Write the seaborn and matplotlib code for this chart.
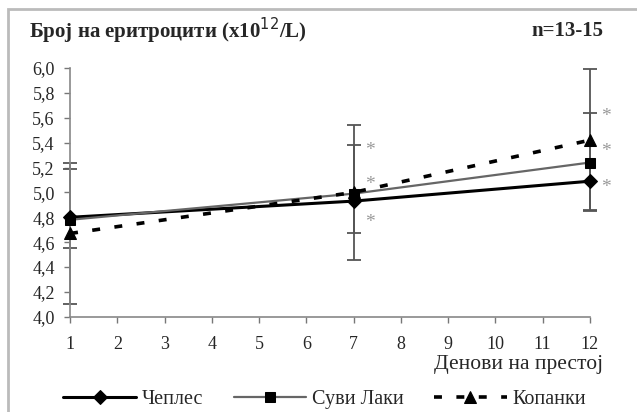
import numpy as np
import pandas as pd
import seaborn as sns
import matplotlib.pyplot as plt

days = [1, 7, 12]

# mean values per group
cheples = [4.80, 4.93, 5.09]
suvi_laki = [4.78, 4.99, 5.24]
kopanki = [4.67, 5.00, 5.42]

# error bars (lower / upper)
suvi_lo = [0.23, 0.32, 0.38]
suvi_hi = [0.41, 0.39, 0.40]
kop_err = [0.57, 0.54, 0.57]

# significance stars
star_x = [7, 7, 7, 12, 12, 12]
star_y = [5.34, 5.06, 4.76, 5.61, 5.33, 5.04]

labels = ["Чеплес", "Суви Лаки", "Копанки"]

sns.set_style("ticks")
plt.rcParams["font.family"] = ["Liberation Serif", "DejaVu Serif"]

fig = plt.figure(figsize=(6.37, 4.12), dpi=100)
ax = fig.add_axes([0.110, 0.231, 0.816, 0.604])

# outer frame
fig.patches.append(plt.Rectangle((0.013, -0.05), 1.2, 1.028, transform=fig.transFigure,
                                 fill=False, edgecolor="#bbbbbb", linewidth=2))

# error bars first so the markers sit on top
for y, err in [(suvi_laki, [suvi_lo, suvi_hi]), (kopanki, kop_err)]:
    eb = ax.errorbar(days, y, yerr=err, fmt="none", ecolor="#555555",
                     elinewidth=1.3, capsize=5, capthick=1.3, zorder=1)
    for art in eb.lines[1] + eb.lines[2]:
        art.set_clip_on(False)

sns.lineplot(x=days, y=cheples, ax=ax, color="black", linewidth=2.2, marker="D",
             markersize=7, markeredgecolor="black", label=labels[0], zorder=3)
sns.lineplot(x=days, y=suvi_laki, ax=ax, color="#666666", linewidth=1.6, marker="s",
             markersize=7, markerfacecolor="black", markeredgecolor="black",
             label=labels[1], zorder=3)
sns.lineplot(x=days, y=kopanki, ax=ax, color="black", linewidth=2.6, marker="^",
             markersize=9, markeredgecolor="black", label=labels[2], zorder=3)
ax.lines[-1].set_dashes([2.2, 4])
for ln in ax.lines:
    ln.set_clip_on(False)

for sx, sy in zip(star_x, star_y):
    ax.text(sx + 0.35, sy, "*", ha="center", va="center", fontsize=14, color="#999999")

ax.set_xlim(1, 12)
ax.set_ylim(4.0, 6.0)
ax.set_xticks(range(1, 13))
ax.set_yticks(np.arange(4.0, 6.01, 0.2))
ax.set_yticklabels([f"{v:.1f}".replace(".", ",") for v in np.arange(4.0, 6.01, 0.2)])
ax.tick_params(axis="both", labelsize=13, color="#777777", length=4, width=1)
ax.tick_params(axis="x", pad=10)
ax.tick_params(axis="y", pad=7)
for s in ["top", "right"]:
    ax.spines[s].set_visible(False)
for s in ["left", "bottom"]:
    ax.spines[s].set_color("#888888")
    ax.spines[s].set_linewidth(1.2)
ax.set_xlabel("")
ax.set_ylabel("")

fig.text(0.046, 0.925, "Број на еритроцити (x10$^{12}$/L)", fontsize=15, fontweight="bold",
         ha="left", va="center")
fig.text(0.947, 0.925, "n=13-15", fontsize=15, fontweight="bold", ha="right", va="center")
fig.text(0.947, 0.116, "Денови на престој", fontsize=15.5, ha="right", va="center")

ax.get_legend().remove()
handles, labs = ax.get_legend_handles_labels()
fig.legend(handles, labs, loc="center", bbox_to_anchor=(0.51, 0.03), ncol=3, frameon=False,
           fontsize=14.5, handlelength=3.6, columnspacing=1.5, handletextpad=0.3)

plt.savefig("out.png", dpi=100)
